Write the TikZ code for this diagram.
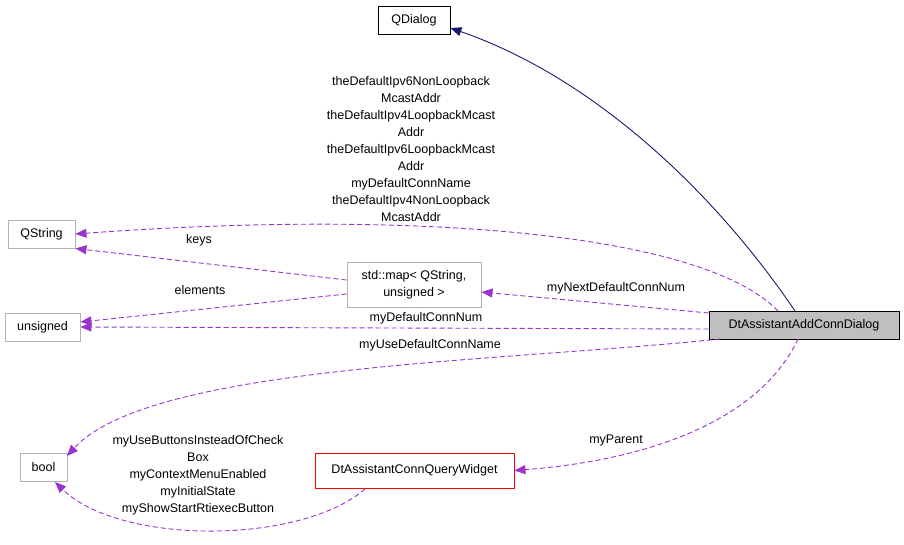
\documentclass[tikz,border=0pt]{standalone}
\usepackage{fontspec}
\setmainfont{Liberation Sans}
\usetikzlibrary{arrows.meta}
\definecolor{pur}{HTML}{9A32CD}
\definecolor{nav}{HTML}{191970}
\begin{document}
\begin{tikzpicture}[x=1pt,y=-1pt,line width=0.9pt,
 box/.style={draw,rectangle,inner sep=0pt,font=\fontsize{12.5}{17}\selectfont,align=center},
 gbox/.style={box,draw=gray!60},
 dep/.style={draw=pur,dashed,dash pattern=on 5pt off 3pt,-{Triangle[length=11pt,width=9pt,fill=pur]}},
 lab/.style={font=\fontsize{12.5}{17}\selectfont,align=center}]
\useasboundingbox (0,0) rectangle (904,544);
\node[box,minimum width=72,minimum height=28] (qd) at (414,20) {QDialog};
\node[gbox,minimum width=67,minimum height=28] (qs) at (41.5,234) {QString};
\node[gbox,minimum width=75,minimum height=28] (un) at (42.5,327) {unsigned};
\node[gbox,minimum width=47,minimum height=28] (bo) at (43.5,467) {bool};
\node[gbox,minimum width=134,minimum height=45] (mp) at (414,284.5) {std::map\textless{} QString,\\unsigned \textgreater};
\node[box,fill=gray!50,minimum width=190,minimum height=28] (dl) at (804,325) {DtAssistantAddConnDialog};
\node[box,draw=red,minimum width=199,minimum height=35] (qw) at (414.5,470.5) {DtAssistantConnQueryWidget};

\draw[nav,-{Triangle[length=11pt,width=9pt,fill=nav]}] (795,311) .. controls (720,200) and (600,80) .. (qd.east |- 0,28);
\draw[dep] (778,311) .. controls (700,230) and (400,210) .. (qs.east);
\draw[dep] (mp.west |- 0,280) -- (qs.south east);
\draw[dep] (mp.west |- 0,294) -- (un.east |- 0,322);
\draw[dep] (dl.west |- 0,313) -- (mp.east |- 0,292);
\draw[dep] (dl.west |- 0,329) -- (un.east |- 0,327);
\draw[dep] (720,339) .. controls (500,362) and (150,365) .. (67,456);
\draw[dep] (798,339) .. controls (760,420) and (650,460) .. (qw.east);
\draw[dep] (365,489) .. controls (300,545) and (120,545) .. (55,482);

\node[lab] at (411,149) {theDefaultIpv6NonLoopback\\McastAddr\\theDefaultIpv4LoopbackMcast\\Addr\\theDefaultIpv6LoopbackMcast\\Addr\\myDefaultConnName\\theDefaultIpv4NonLoopback\\McastAddr};
\node[lab] at (199,240) {keys};
\node[lab] at (200,290) {elements};
\node[lab] at (616,288) {myNextDefaultConnNum};
\node[lab] at (426,318) {myDefaultConnNum};
\node[lab] at (430,345) {myUseDefaultConnName};
\node[lab] at (616,440) {myParent};
\node[lab] at (198,475) {myUseButtonsInsteadOfCheck\\Box\\myContextMenuEnabled\\myInitialState\\myShowStartRtiexecButton};
\end{tikzpicture}
\end{document}
